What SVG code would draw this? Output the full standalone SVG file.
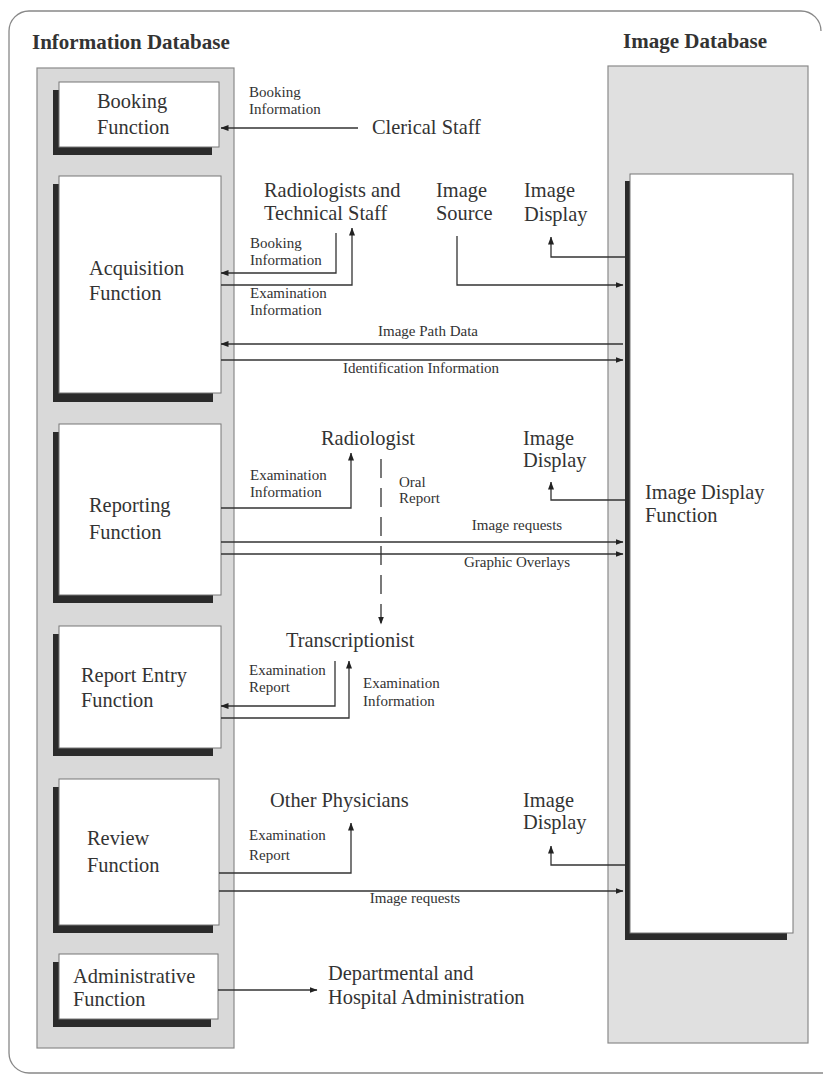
<svg xmlns="http://www.w3.org/2000/svg" width="823" height="1074" viewBox="0 0 823 1074">
<defs>
<marker id="ah" viewBox="0 0 8 6" refX="7.5" refY="3" markerWidth="8" markerHeight="6" markerUnits="userSpaceOnUse" orient="auto">
<path d="M0,0 L8,3 L0,6 z" fill="#222"/>
</marker>
</defs>
<style>
.col{fill:#d9d9d9;stroke:#8a8a8a;stroke-width:1.2}
.colr{fill:#e0e0e0;stroke:#8a8a8a;stroke-width:1.2}
.sh{fill:#2b2b2b}
.box{fill:#fff;stroke:#777;stroke-width:1}
.big{font-family:"Liberation Serif","Times New Roman",serif;font-size:20.4px;fill:#333}
.hd{font-family:"Liberation Serif","Times New Roman",serif;font-size:21px;font-weight:bold;fill:#333}
.sm{font-family:"Liberation Serif","Times New Roman",serif;font-size:15px;fill:#333}
.ln{fill:none;stroke:#333;stroke-width:1.3;marker-end:url(#ah)}
.dash{stroke-dasharray:19 10}
.mid{text-anchor:middle}
</style>
<path d="M821,31 A20,20 0 0 0 801,11 L29,11 A20,20 0 0 0 9,31 L9,1053 A20,20 0 0 0 29,1073 L823,1073" fill="none" stroke="#888" stroke-width="1.3"/>
<text class="hd" x="32" y="49">Information Database</text>
<text class="hd" x="623" y="48">Image Database</text>
<g id="information-database"><rect class="col" x="37" y="68" width="197" height="980"/></g>
<g id="image-database"><rect class="colr" x="608" y="66" width="200" height="977"/></g>
<g id="booking">
<rect class="sh" x="53" y="90" width="159" height="65"/>
<rect class="box" x="59" y="82" width="160" height="65"/>
<text class="big" x="97" y="108">Booking</text>
<text class="big" x="97" y="134">Function</text>
</g>
<g id="acquisition">
<rect class="sh" x="53" y="184" width="160" height="218"/>
<rect class="box" x="59" y="176" width="162" height="217"/>
<text class="big" x="89" y="275">Acquisition</text>
<text class="big" x="89" y="300">Function</text>
</g>
<g id="reporting">
<rect class="sh" x="53" y="432" width="160" height="171"/>
<rect class="box" x="59" y="424" width="162" height="171"/>
<text class="big" x="89" y="512">Reporting</text>
<text class="big" x="89" y="539">Function</text>
</g>
<g id="report-entry">
<rect class="sh" x="53" y="634" width="160" height="122"/>
<rect class="box" x="59" y="626" width="162" height="122"/>
<text class="big" x="81" y="682">Report Entry</text>
<text class="big" x="81" y="707">Function</text>
</g>
<g id="review">
<rect class="sh" x="53" y="787" width="160" height="146"/>
<rect class="box" x="59" y="779" width="160" height="146"/>
<text class="big" x="87" y="845">Review</text>
<text class="big" x="87" y="872">Function</text>
</g>
<g id="administrative">
<rect class="sh" x="53" y="962" width="158" height="65"/>
<rect class="box" x="59" y="954" width="159" height="65"/>
<text class="big" x="73" y="983">Administrative</text>
<text class="big" x="73" y="1006">Function</text>
</g>
<g id="image-display-function">
<rect class="sh" x="625" y="181" width="162" height="759"/>
<rect class="box" x="630" y="174" width="163" height="759"/>
<text class="big" x="645" y="499">Image Display</text>
<text class="big" x="645" y="522">Function</text>
</g>
<g id="clerical-staff"><text class="big" x="372" y="134">Clerical Staff</text></g>
<g id="radiologists-technical"><text class="big" x="264" y="197">Radiologists and</text><text class="big" x="264" y="220">Technical Staff</text></g>
<g id="image-source"><text class="big" x="436" y="197">Image</text><text class="big" x="436" y="220">Source</text></g>
<g id="image-display-1"><text class="big" x="524" y="197">Image</text><text class="big" x="524" y="221">Display</text></g>
<g id="radiologist"><text class="big" x="321" y="445">Radiologist</text></g>
<g id="image-display-2"><text class="big" x="523" y="445">Image</text><text class="big" x="523" y="467">Display</text></g>
<g id="transcriptionist"><text class="big" x="286" y="647">Transcriptionist</text></g>
<g id="other-physicians"><text class="big" x="270" y="807">Other Physicians</text></g>
<g id="image-display-3"><text class="big" x="523" y="807">Image</text><text class="big" x="523" y="829">Display</text></g>
<g id="administration"><text class="big" x="328" y="980">Departmental and</text><text class="big" x="328" y="1004">Hospital Administration</text></g>
<g id="connectors">
<path class="ln" d="M358,128 H221"/>
<path class="ln" d="M336,233 V273 H221"/>
<path class="ln" d="M221,285 H352 V228"/>
<path class="ln" d="M457,236 V285 H623"/>
<path class="ln" d="M625,257 H551 V237"/>
<path class="ln" d="M623,344 H221"/>
<path class="ln" d="M221,360 H623"/>
<path class="ln" d="M221,508 H351 V453"/>
<path class="ln dash" d="M381,459 V624"/>
<path class="ln" d="M625,500 H551 V482"/>
<path class="ln" d="M221,542 H623"/>
<path class="ln" d="M221,554 H623"/>
<path class="ln" d="M335,661 V706 H221"/>
<path class="ln" d="M221,718 H349 V661"/>
<path class="ln" d="M219,873 H351 V823"/>
<path class="ln" d="M625,865 H551 V846"/>
<path class="ln" d="M219,891 H623"/>
<path class="ln" d="M218,990 H317"/>
<text class="sm" x="249" y="97">Booking</text>
<text class="sm" x="249" y="114">Information</text>
<text class="sm" x="250" y="248">Booking</text>
<text class="sm" x="250" y="265">Information</text>
<text class="sm" x="250" y="298">Examination</text>
<text class="sm" x="250" y="315">Information</text>
<text class="sm mid" x="428" y="336">Image Path Data</text>
<text class="sm mid" x="421" y="373">Identification Information</text>
<text class="sm" x="250" y="480">Examination</text>
<text class="sm" x="250" y="497">Information</text>
<text class="sm" x="399" y="487">Oral</text>
<text class="sm" x="399" y="503">Report</text>
<text class="sm mid" x="517" y="530">Image requests</text>
<text class="sm mid" x="517" y="567">Graphic Overlays</text>
<text class="sm" x="249" y="675">Examination</text>
<text class="sm" x="249" y="692">Report</text>
<text class="sm" x="363" y="688">Examination</text>
<text class="sm" x="363" y="706">Information</text>
<text class="sm" x="249" y="840">Examination</text>
<text class="sm" x="249" y="860">Report</text>
<text class="sm mid" x="415" y="903">Image requests</text>
</g>
</svg>
